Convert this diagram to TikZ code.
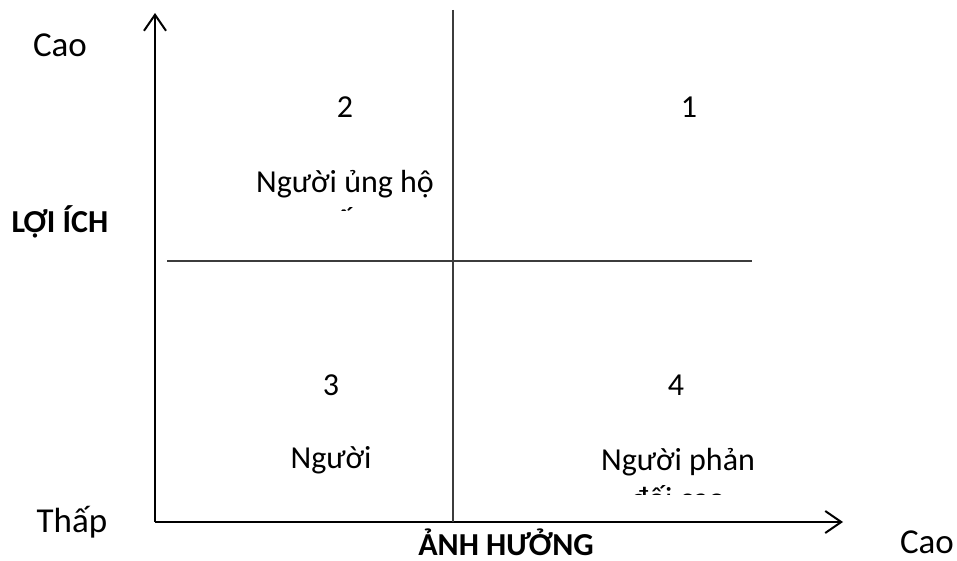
\documentclass[tikz,border=0pt]{standalone}
\usepackage{fontspec}
\setmainfont{Carlito}
\usetikzlibrary{arrows.meta}
\definecolor{ink}    {HTML}{000000}
\definecolor{gridink}{HTML}{3C3C3C}
\tikzset{
  % --- lines
  axis/.style    = {line width=2.2pt, draw=ink,
                    -{Straight Barb[length=16pt,width=22pt,line width=2pt]}},
  divider/.style = {line width=1.4pt, draw=gridink},
  % --- texts
  quad/.style    = {font=\fontsize{32}{39}\selectfont, anchor=base, align=center,
                    inner sep=0pt},
  num/.style     = {quad},
  level/.style   = {font=\fontsize{35}{42}\selectfont, anchor=base, inner sep=0pt},
  axtitle/.style = {font=\fontsize{32}{39}\selectfont\bfseries, anchor=base,
                    inner sep=0pt},
}
\begin{document}
\begin{tikzpicture}[x=1pt,y=-1pt]
  \useasboundingbox (0,0) rectangle (957,561);
  % axes
  \coordinate (origin) at (155,522);
  \coordinate (ytip)   at (155,13);
  \coordinate (xtip)   at (843,522);
  \draw[axis] (origin) -- (ytip);
  \draw[axis] (origin) -- (xtip);
  % quadrant dividers
  \coordinate (vtop) at (453,10);
  \coordinate (vbot) at (453,522);
  \coordinate (hlft) at (167,261);
  \coordinate (hrgt) at (752,261);
  \draw[divider] (vtop) -- (vbot);
  \draw[divider] (hlft) -- (hrgt);
  % axis labels
  \node[level]   (ycao)  at (60,57)   {Cao};
  \node[axtitle] (yname) at (60,233)  {LỢI ÍCH};
  \node[level]   (ythap) at (72,532)  {Thấp};
  \node[axtitle] (xname) at (506,555) {ẢNH HƯỞNG};
  \node[level]   (xcao)  at (927,553) {Cao};
  % quadrant numbers
  \node[num] (q1) at (689,118) {1};
  \node[num] (q2) at (345,118) {2};
  \node[num] (q3) at (331,395) {3};
  \node[num] (q4) at (676,395) {4};
  % quadrant texts, cut off at the bottom of their boxes (base = last line)
  \begin{scope}
    \clip (230,150) rectangle (460,211);
    \node[quad] (t2) at (345,232) {Người ủng hộ\\yếu};
  \end{scope}
  \begin{scope}
    \clip (260,430) rectangle (400,480);
    \node[quad] (t3) at (331,468) {Người};
  \end{scope}
  \begin{scope}
    \clip (570,430) rectangle (790,494);
    \node[quad] (t4) at (678,509) {Người phản\\đối cao};
  \end{scope}
\end{tikzpicture}
\end{document}
